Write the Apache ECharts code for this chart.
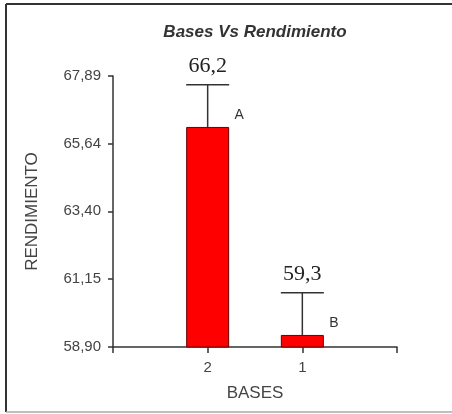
<!DOCTYPE html>
<html>
<head>
<meta charset="utf-8">
<script src="https://cdn.jsdelivr.net/npm/echarts@6/dist/echarts.min.js"></script>
<style>
  html, body { margin: 0; padding: 0; background: #fff; }
  #chart { width: 452px; height: 414px; }
</style>
</head>
<body>
<div id="chart"></div>
<script>
const bases = ["2", "1"];
const rendimiento = [66.2, 59.3];
const errorTop = [67.6, 60.7];
const letters = ["A", "B"];
const yTicks = [58.9, 61.15, 63.4, 65.64, 67.89];

const BAR_WIDTH = 43;
const INK = "#333";
const comma = (v, digits) => v.toFixed(digits).replace(".", ",");

const chart = echarts.init(document.getElementById("chart"));

const points = bases.map((name, i) => [i + 1, rendimiento[i], errorTop[i], letters[i]]);

chart.setOption({
  animation: false,
  backgroundColor: "#fff",
  textStyle: { fontFamily: "Liberation Sans, Arial, sans-serif" },
  grid: { left: 113, right: 55, top: 76, bottom: 67 },
  graphic: [
    { type: "line", shape: { x1: 6, y1: 4, x2: 452, y2: 4 }, style: { stroke: "#333", lineWidth: 2 } },
    { type: "line", shape: { x1: 6, y1: 4, x2: 6, y2: 412 }, style: { stroke: "#333", lineWidth: 2 } },
    { type: "line", shape: { x1: 6, y1: 412, x2: 452, y2: 412 }, style: { stroke: "#aaa", lineWidth: 1.5 } },
    {
      type: "text",
      x: 255,
      y: 32,
      style: {
        text: "Bases Vs Rendimiento",
        fill: INK,
        font: "italic bold 17px Liberation Sans, Arial, sans-serif",
        textAlign: "center",
        textVerticalAlign: "middle",
      },
    },
  ],
  xAxis: {
    type: "value",
    min: 0,
    max: 3,
    interval: 1,
    name: "BASES",
    nameLocation: "middle",
    nameGap: 38,
    nameTextStyle: { fontSize: 17, color: "#444" },
    splitLine: { show: false },
    axisLine: { lineStyle: { color: INK, width: 1.5 } },
    axisTick: { length: 6, lineStyle: { color: INK, width: 1.5 } },
    axisLabel: {
      margin: 13,
      fontSize: 15,
      color: "#444",
      formatter: (v) => bases[v - 1] || "",
    },
  },
  yAxis: {
    type: "value",
    min: yTicks[0],
    max: yTicks[yTicks.length - 1],
    name: "RENDIMIENTO",
    nameLocation: "middle",
    nameGap: 72,
    nameRotate: 90,
    nameTextStyle: { fontSize: 17, color: "#444" },
    splitLine: { show: false },
    axisLine: { show: true, lineStyle: { color: INK, width: 1.5 } },
    axisTick: { show: true, length: 5, customValues: yTicks, lineStyle: { color: INK, width: 1.5 } },
    axisLabel: {
      margin: 12,
      fontSize: 15,
      color: "#444",
      customValues: yTicks,
      formatter: (v) => comma(v, 2),
    },
  },
  series: [
    {
      type: "bar",
      barWidth: BAR_WIDTH,
      itemStyle: { color: "#ff0000", borderColor: "#600", borderWidth: 1 },
      data: points.map((p) => [p[0], p[1]]),
    },
    {
      type: "custom",
      clip: false,
      data: points,
      renderItem: (params, api) => {
        const x = api.value(0);
        const mean = api.coord([x, api.value(1)]);
        const top = api.coord([x, api.value(2)]);
        const half = BAR_WIDTH / 2;
        const i = params.dataIndex;
        return {
          type: "group",
          children: [
            {
              type: "line",
              shape: { x1: mean[0], y1: mean[1], x2: top[0], y2: top[1] },
              style: { stroke: INK, lineWidth: 1.5 },
            },
            {
              type: "line",
              shape: { x1: top[0] - half, y1: top[1], x2: top[0] + half, y2: top[1] },
              style: { stroke: INK, lineWidth: 1.5 },
            },
            {
              type: "text",
              x: top[0],
              y: top[1] - 8,
              style: {
                text: comma(rendimiento[i], 1),
                fill: "#222",
                font: "22px Liberation Serif, Times New Roman, serif",
                textAlign: "center",
                textVerticalAlign: "bottom",
              },
            },
            {
              type: "text",
              x: mean[0] + half + 10,
              y: mean[1] - 12,
              style: {
                text: letters[i],
                fill: INK,
                font: "14px Liberation Sans, Arial, sans-serif",
                textAlign: "center",
                textVerticalAlign: "middle",
              },
            },
          ],
        };
      },
    },
  ],
});
</script>
</body>
</html>
